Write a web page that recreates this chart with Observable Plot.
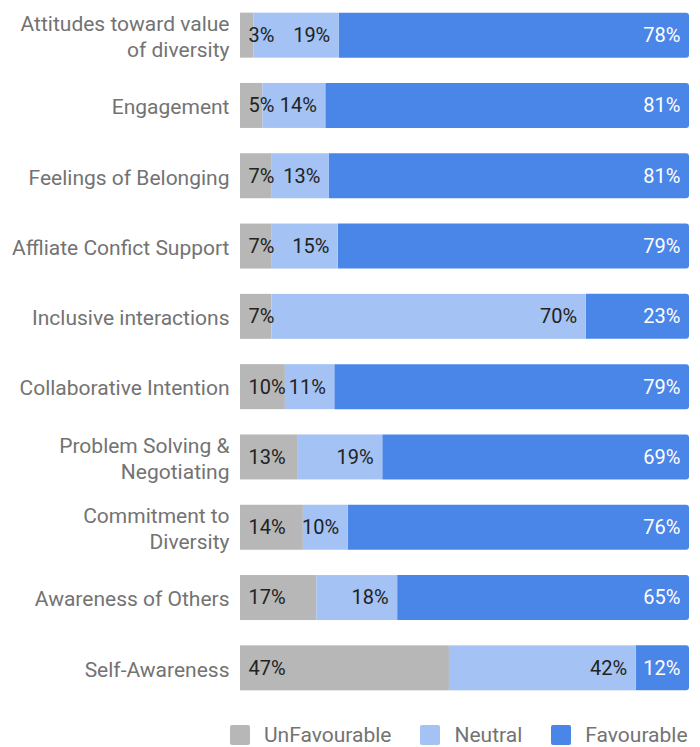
<!DOCTYPE html>
<html>
<head>
<meta charset="utf-8">
<script src="https://cdn.jsdelivr.net/npm/d3@7"></script>
<script src="https://cdn.jsdelivr.net/npm/@observablehq/plot@0.6"></script>
<style>
  html, body { margin: 0; padding: 0; background: #fff; }
  body { width: 700px; height: 747px; overflow: hidden; font-family: Roboto, sans-serif; }
  #legend { display: flex; align-items: center; margin-top: 22px; margin-left: 230px; height: 20px; font-size: 21px; line-height: 20px; color: #737373; }
  .sw { width: 20px; height: 20px; border-radius: 2px; margin-right: 14px; }
  .item { display: flex; align-items: center; margin-right: 29px; }
</style>
</head>
<body>
<div id="chart"></div>
<div id="legend"></div>
<script>
const categories = [
  "Attitudes toward value\nof diversity",
  "Engagement",
  "Feelings of Belonging",
  "Affliate Confict Support",
  "Inclusive interactions",
  "Collaborative Intention",
  "Problem Solving &\nNegotiating",
  "Commitment to\nDiversity",
  "Awareness of Others",
  "Self-Awareness"
];
const unfavourable = [3, 5, 7, 7, 7, 10, 13, 14, 17, 47];
const neutral      = [19, 14, 13, 15, 70, 11, 19, 10, 18, 42];
const favourable   = [78, 81, 81, 79, 23, 79, 69, 76, 65, 12];
const seriesNames  = ["UnFavourable", "Neutral", "Favourable"];
const seriesColors = ["#b7b7b7", "#a4c2f4", "#4a86e8"];
const labelColors  = ["#222222", "#222222", "#ffffff"];

// Build normalized stacked segments
const rows = [];
categories.forEach((c, i) => {
  const vals = [unfavourable[i], neutral[i], favourable[i]];
  const total = d3.sum(vals);
  let acc = 0;
  vals.forEach((v, k) => {
    const x1 = acc / total;
    acc += v;
    const x2 = acc / total;
    rows.push({cat: c, series: seriesNames[k], k, value: v, x1, x2});
  });
});

const plot = Plot.plot({
  width: 700,
  height: 703,
  marginLeft: 240,
  marginRight: 11,
  marginTop: 0,
  marginBottom: 0,
  style: {fontFamily: "Roboto, sans-serif", fontSize: "21px", color: "#737373", background: "#fff"},
  x: {domain: [0, 1], axis: null},
  y: {domain: categories, paddingInner: 0.36, paddingOuter: 0.18, round: false, label: null},
  color: {domain: seriesNames, range: seriesColors},
  marks: [
    Plot.barX(rows, {x1: "x1", x2: "x2", y: "cat", fill: "series", rx2y1: 3, rx2y2: 3,
      filter: d => d.k === 2}),
    Plot.barX(rows, {x1: "x1", x2: "x2", y: "cat", fill: "series", filter: d => d.k < 2}),
    Plot.text(rows, {filter: d => d.k === 0, x: "x1", y: "cat", text: d => d.value + "%",
      textAnchor: "start", dx: 8, fill: labelColors[0], fontSize: 20}),
    Plot.text(rows, {filter: d => d.k === 1, x: "x2", y: "cat", text: d => d.value + "%",
      textAnchor: "end", dx: -9, fill: labelColors[1], fontSize: 20}),
    Plot.text(rows, {filter: d => d.k === 2, x: "x2", y: "cat", text: d => d.value + "%",
      textAnchor: "end", dx: -9, fill: labelColors[2], fontSize: 20}),
    Plot.axisY({tickSize: 0, tickPadding: 11, fontSize: 21, color: "#737373", lineHeight: 1.24, label: null})
  ]
});
document.getElementById("chart").appendChild(plot);

const legend = document.getElementById("legend");
seriesNames.forEach((n, i) => {
  const item = document.createElement("div");
  item.className = "item";
  const sw = document.createElement("div");
  sw.className = "sw";
  sw.style.background = seriesColors[i];
  const t = document.createElement("span");
  t.textContent = n;
  item.appendChild(sw);
  item.appendChild(t);
  legend.appendChild(item);
});
</script>
</body>
</html>
